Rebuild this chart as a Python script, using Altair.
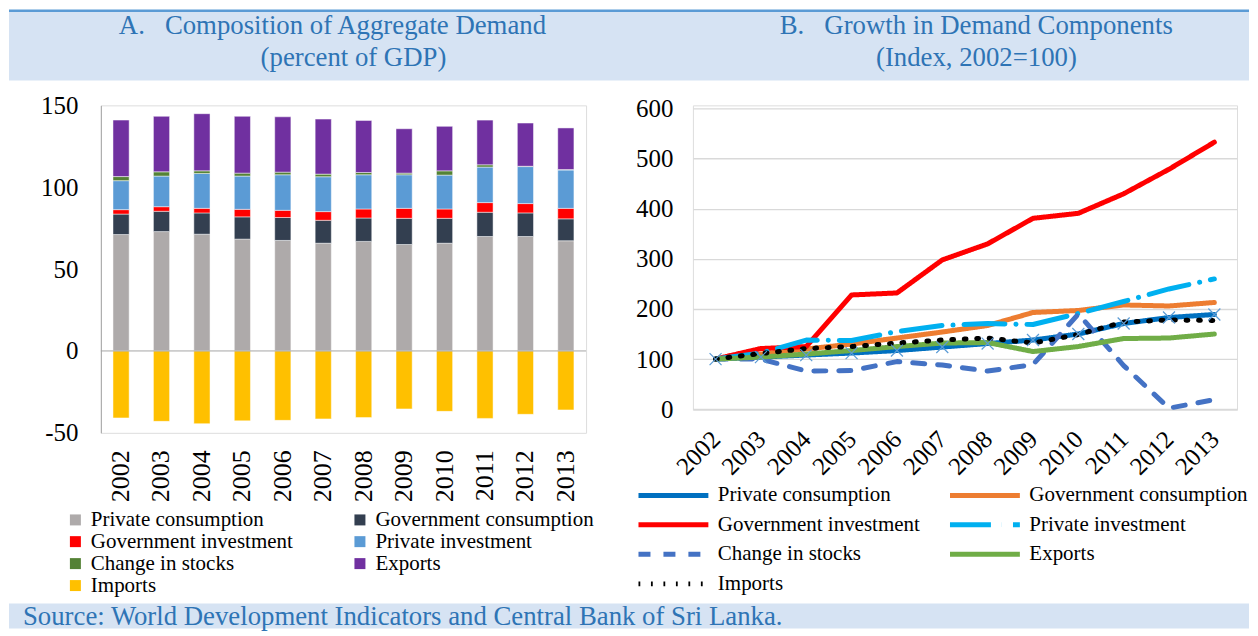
import altair as alt
import pandas as pd

FONT = "Liberation Serif"
TITLE_BLUE = "#2e74b5"
BAND = "#d6e3f3"

years = [str(y) for y in range(2002, 2014)]
components = ["Private consumption", "Government consumption", "Government investment",
              "Private investment", "Change in stocks", "Exports", "Imports"]

# Panel A: percent of GDP
share_pc = [71.1, 72.9, 71.3, 68.3, 67.5, 65.8, 66.9, 65.0, 65.8, 69.9, 69.9, 67.3]
share_gc = [12.5, 12.4, 13.0, 13.6, 14.0, 14.0, 14.3, 16.0, 15.2, 14.8, 14.4, 13.4]
share_gi = [2.7, 2.8, 2.8, 4.6, 4.4, 5.3, 5.5, 6.1, 5.7, 5.9, 5.7, 6.4]
share_pi = [17.7, 18.7, 21.3, 20.3, 21.7, 21.3, 20.9, 20.5, 20.7, 21.7, 22.6, 23.4]
share_st = [2.5, 2.6, 1.6, 1.8, 1.6, 1.6, 1.4, 1.0, 2.6, 1.4, 0.2, 0.3]
share_ex = [34.5, 33.9, 34.9, 34.7, 33.8, 33.6, 31.8, 27.1, 27.2, 27.3, 26.4, 25.4]
share_im = [-40.9, -43.0, -44.4, -42.7, -42.4, -41.5, -40.7, -35.4, -36.9, -41.2, -38.7, -36.0]

# Panel B: index 2002=100
idx_pc = [100, 104, 108, 112, 117, 124, 131, 138, 150, 171, 183, 189]
idx_gc = [100, 110, 120, 130, 142, 154, 167, 193, 197, 208, 206, 213]
idx_gi = [100, 121, 125, 228, 232, 298, 330, 381, 391, 430, 479, 533]
idx_pi = [100, 112, 138, 137, 155, 167, 171, 169, 191, 215, 240, 260]
idx_st = [100, 100, 76, 77, 95, 88, 76, 89, 190, 87, 2, 19]
idx_ex = [100, 104, 110, 117, 125, 132, 133, 115, 125, 141, 142, 150]
idx_im = [100, 111, 121, 125, 132, 138, 142, 132, 149, 174, 178, 177]

bar_colors = ["#aeaaaa", "#333f50", "#ff0000", "#5b9bd5", "#548235", "#7030a0", "#ffc000"]
line_colors = ["#0070c0", "#ed7d31", "#ff0000", "#00b0f0", "#4472c4", "#70ad47", "#000000"]
line_dashes = [[1, 0], [1, 0], [1, 0], [41, 11, 0.1, 11], [12, 13], [1, 0], [1.8, 10.7]]

title_a1 = "A.\u00a0\u00a0\u00a0Composition of Aggregate Demand"
title_a2 = "(percent of GDP)"
title_b1 = "B.\u00a0\u00a0\u00a0Growth in Demand Components"
title_b2 = "(Index, 2002=100)"
source_text = "Source: World Development Indicators and Central Bank of Sri Lanka."

shares = [share_pc, share_gc, share_gi, share_pi, share_st, share_ex, share_im]
indices = [idx_pc, idx_gc, idx_gi, idx_pi, idx_st, idx_ex, idx_im]

df_a = pd.DataFrame([
    {"year": y, "component": c, "value": v, "idx": i}
    for i, (c, vals) in enumerate(zip(components, shares))
    for y, v in zip(years, vals)
])
df_b = pd.DataFrame([
    {"year": y, "series": c, "value": v}
    for c, vals in zip(components, indices)
    for y, v in zip(years, vals)
])
df_pc = df_b[df_b["series"] == components[0]]

one = alt.Data(values=[{}])


def vrect(x1, x2, y1, y2, color):
    return alt.Chart(one).mark_rect(color=color).encode(
        x=alt.value(x1), x2=alt.value(x2), y=alt.value(y1), y2=alt.value(y2))


def vtext(txt, x, y, align, size):
    return alt.Chart(one).mark_text(
        text=txt, align=align, baseline="middle", font=FONT, fontSize=size, color=TITLE_BLUE
    ).encode(x=alt.value(x), y=alt.value(y))


# ---------- Panel A ----------
bars = alt.Chart(df_a).mark_bar(stroke="white", strokeWidth=0.8, strokeOpacity=0.6).encode(
    x=alt.X("year:N", sort=years,
            scale=alt.Scale(paddingInner=0.6, paddingOuter=0.3),
            axis=alt.Axis(title=None, labelAngle=-90, labelFontSize=26, labelFont=FONT,
                          labelColor="black", labelPadding=17, domain=False, ticks=False,
                          tickSize=0, grid=False)),
    y=alt.Y("value:Q", stack="zero",
            scale=alt.Scale(domain=[-50, 150], nice=False, zero=False),
            axis=alt.Axis(title=None, values=[-50, 0, 50, 100, 150],
                          labelExpr="'' + datum.value", grid=False, ticks=False, tickSize=0,
                          domainColor="#a6a6a6", domainWidth=1, labelPadding=23,
                          labelFontSize=25, labelFont=FONT, labelColor="black")),
    color=alt.Color("component:N",
                    scale=alt.Scale(domain=components, range=bar_colors),
                    legend=alt.Legend(title=None, orient="none", direction="horizontal",
                                      legendX=-36, legendY=404.5,
                                      columns=2, columnPadding=56, rowPadding=0,
                                      symbolType="square", symbolSize=121, symbolStrokeWidth=0,
                                      labelFont=FONT, labelFontSize=21, labelColor="black",
                                      labelOffset=5, labelLimit=400, padding=0)),
    order=alt.Order("idx:Q"),
)

zero_line = alt.Chart(one).mark_rule(color="#a6a6a6", strokeWidth=1).encode(y=alt.datum(0))

panel_a = alt.layer(
    vrect(-92, 1150, -96, -93.5, "#5b9bd5"),
    vrect(-92, 1150, -93.5, -25, BAND),
    vrect(-92, 1150, 499, 524, BAND),
    vtext(title_a1, 18, -79, "left", 26.8),
    vtext(title_a2, 253, -47, "center", 26.8),
    vtext(source_text, -78, 512, "left", 26.8),
    bars,
    zero_line,
).properties(width=486, height=328)

# ---------- Panel B ----------
xb = alt.X("year:N", sort=years, scale=alt.Scale(type="point", padding=0.5),
           axis=alt.Axis(title=None, labelAngle=-45, labelAlign="right", labelBaseline="middle",
                         labelPadding=25, labelFontSize=25, labelFont=FONT, labelColor="black",
                         domain=False, ticks=False, tickSize=0, grid=False))
yb = alt.Y("value:Q", scale=alt.Scale(domain=[0, 600], range=[304.3, 3.3], nice=False),
           axis=alt.Axis(title=None, values=[0, 100, 200, 300, 400, 500, 600], grid=True,
                         gridColor="#d9d9d9", gridWidth=1.3, domain=False, ticks=False,
                         tickSize=0, labelPadding=20, labelFontSize=25, labelFont=FONT,
                         labelColor="black"))

legend_b = alt.Legend(title=None, orient="none", direction="horizontal", legendX=-57,
                      legendY=378, columns=2,
                      columnPadding=19, rowPadding=6.6, symbolType="M-1,0L6,0",
                      symbolSize=400, symbolStrokeWidth=5, labelFont=FONT, labelFontSize=21,
                      labelColor="black", labelOffset=57, labelLimit=400, padding=0)

lines = alt.Chart(df_b).mark_line(strokeWidth=5, strokeCap="round", strokeJoin="round").encode(
    x=xb,
    y=yb,
    color=alt.Color("series:N", scale=alt.Scale(domain=components, range=line_colors),
                    legend=legend_b),
    strokeDash=alt.StrokeDash("series:N", scale=alt.Scale(domain=components, range=line_dashes),
                              legend=legend_b),
)

xpath = "M-1,-1L1,1M-1,1L1,-1"
markers = alt.Chart(df_pc).mark_point(shape=xpath, filled=False, size=144, strokeWidth=1.2,
                                      color="#5b9bd5", opacity=1).encode(
    x=alt.X("year:N", sort=years), y=alt.Y("value:Q"))

panel_b = alt.layer(
    vtext(title_b1, 87, -79, "left", 26.8),
    vtext(title_b2, 284, -47, "center", 26.8),
    lines,
    markers,
).properties(width=545, height=305)

chart = alt.hconcat(panel_a, panel_b, spacing=107, bounds="flush", padding=0).resolve_scale(
    color="independent", strokeDash="independent"
).configure_view(stroke=None).configure(font=FONT, background="white")

chart.save("out.html", embed_options={"renderer": "svg", "actions": False})
